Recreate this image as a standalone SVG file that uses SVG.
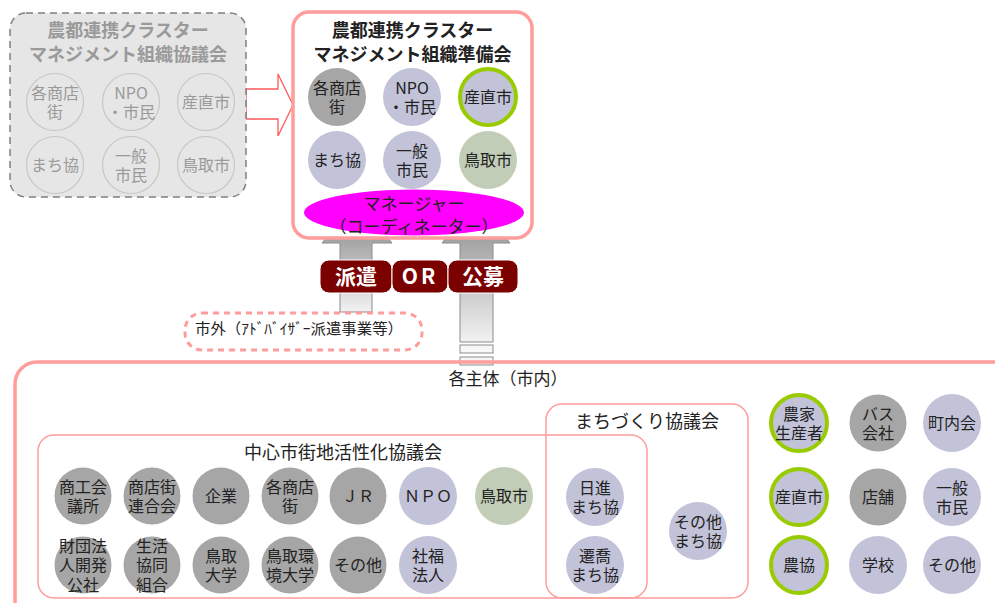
<svg xmlns="http://www.w3.org/2000/svg" width="995" height="603" viewBox="0 0 995 603">
<defs>
<linearGradient id="gL" gradientUnits="userSpaceOnUse" x1="0" y1="238" x2="0" y2="312">
<stop offset="0" stop-color="#a2a2a2"/><stop offset="1" stop-color="#f2f2f2"/>
</linearGradient>
<linearGradient id="gR" gradientUnits="userSpaceOnUse" x1="0" y1="238" x2="0" y2="342">
<stop offset="0" stop-color="#a2a2a2"/><stop offset="1" stop-color="#f2f2f2"/>
</linearGradient>
<style>
text{font-family:"Noto Sans CJK JP","Liberation Sans",sans-serif;text-anchor:middle;fill:#222}
.t16{font-size:16px}
.ttl{font-size:18px;font-weight:bold}
.gt{fill:#9a9a9a}
.ghost{fill:#e6e6e6;stroke:#c6c6c6;stroke-width:1.2}
.gray{fill:#a6a6a6}
.lav{fill:#c2c2d9}
.sage{fill:#c2cdb7}
.ring{fill:#c2c2d9;stroke:#99cc00;stroke-width:4}
.pinkbox{fill:none;stroke:#ff9c9c;stroke-width:1.5}
.lbl{fill:#7b0000;stroke:#fff;stroke-width:1}
.wt{fill:#fff;font-size:21px;font-weight:bold}
</style>
</defs>

<!-- connectors -->
<g id="connectors">
<polygon points="246,89 278,89 278,74 293,105 278,136 278,119 246,119" fill="#fff" stroke="#ff5a5a" stroke-width="1.3"/>
<polygon points="340,312 340,243 322,243 357,200 392,243 372,243 372,312" fill="url(#gL)" stroke="#8c8c8c" stroke-width="1"/>
<polygon points="460,342 460,243 442,243 476,200 510,243 493,243 493,342" fill="url(#gR)" stroke="#8c8c8c" stroke-width="1"/>
<rect x="460" y="345" width="33" height="8" fill="#f7f7f7" stroke="#8c8c8c" stroke-width="1"/>
<rect x="460" y="357" width="33" height="8" fill="#f7f7f7" stroke="#8c8c8c" stroke-width="1"/>
</g>

<!-- old council (ghost) -->
<g id="old-council">
<rect x="10" y="13" width="236" height="184" rx="16" fill="#e6e6e6" stroke="#7f7f7f" stroke-width="1.5" stroke-dasharray="7,5"/>
<text class="ttl gt" x="128" y="37">農都連携クラスター<tspan x="128" dy="24">マネジメント組織協議会</tspan></text>
<g id="old-shoutengai"><circle class="ghost" cx="55" cy="102" r="28.5"/><text class="t16 gt" x="55" y="98.5">各商店<tspan x="55" dy="19">街</tspan></text></g>
<g id="old-npo"><circle class="ghost" cx="131" cy="102" r="28.5"/><text class="t16 gt" x="131" y="98.5">NPO<tspan x="131" dy="19">・市民</tspan></text></g>
<g id="old-sanchoku"><circle class="ghost" cx="206" cy="102" r="28.5"/><text class="t16 gt" x="206" y="108">産直市</text></g>
<g id="old-machikyo"><circle class="ghost" cx="55" cy="165" r="28.5"/><text class="t16 gt" x="55" y="171">まち協</text></g>
<g id="old-shimin"><circle class="ghost" cx="131" cy="165" r="28.5"/><text class="t16 gt" x="131" y="161.5">一般<tspan x="131" dy="19">市民</tspan></text></g>
<g id="old-tottori"><circle class="ghost" cx="206" cy="165" r="28.5"/><text class="t16 gt" x="206" y="171">鳥取市</text></g>
</g>

<!-- preparatory council -->
<g id="prep-council">
<rect x="293" y="12" width="239" height="226" rx="16" fill="#fff" stroke="#ff9c9c" stroke-width="3.5"/>
<text class="ttl" x="412.5" y="37">農都連携クラスター<tspan x="412.5" dy="24">マネジメント組織準備会</tspan></text>
<g id="prep-shoutengai"><circle class="gray" cx="337" cy="97" r="29"/><text class="t16" x="337" y="93.5">各商店<tspan x="337" dy="19">街</tspan></text></g>
<g id="prep-npo"><circle class="lav" cx="412" cy="97" r="29"/><text class="t16" x="412" y="93.5">NPO<tspan x="412" dy="19">・市民</tspan></text></g>
<g id="prep-sanchoku"><circle class="ring" cx="488" cy="97" r="28"/><text class="t16" x="488" y="103">産直市</text></g>
<g id="prep-machikyo"><circle class="lav" cx="337" cy="160" r="29"/><text class="t16" x="337" y="166">まち協</text></g>
<g id="prep-shimin"><circle class="lav" cx="412" cy="160" r="29"/><text class="t16" x="412" y="156.5">一般<tspan x="412" dy="19">市民</tspan></text></g>
<g id="prep-tottori"><circle class="sage" cx="488" cy="160" r="29"/><text class="t16" x="488" y="166">鳥取市</text></g>
</g>

<g id="manager">
<ellipse cx="414" cy="212.5" rx="110" ry="23" fill="#ff00ff"/>
<text x="414" y="209.5" style="font-size:17px">マネージャー<tspan x="414" dy="23.5">（コーディネーター）</tspan></text>
</g>

<g id="labels">
<rect class="lbl" x="320" y="260" width="72" height="33" rx="9"/>
<rect class="lbl" x="392" y="260" width="56" height="33" rx="9"/>
<rect class="lbl" x="448" y="260" width="70" height="33" rx="9"/>
<text class="wt" x="356" y="284">派遣</text>
<text class="wt" x="420" y="284" style="letter-spacing:3px">OR</text>
<text class="wt" x="483" y="284">公募</text>
</g>

<g id="outside">
<rect x="185" y="313" width="237" height="37" rx="17" fill="#fff" stroke="#ff9c9c" stroke-width="3" stroke-dasharray="6,5"/>
<text x="299" y="334" style="font-size:15px" textLength="208" lengthAdjust="spacingAndGlyphs">市外（ｱﾄﾞﾊﾞｲｻﾞｰ派遣事業等）</text>
</g>

<!-- city actors -->
<g id="city">
<rect x="15" y="362" width="1010" height="270" rx="22" fill="none" stroke="#ff9c9c" stroke-width="3.5"/>
<text x="508" y="385" style="font-size:17px">各主体（市内）</text>
</g>

<g id="chushin">
<rect class="pinkbox" x="38" y="435" width="609" height="163" rx="16"/>
<text x="343" y="459" style="font-size:18px">中心市街地活性化協議会</text>
<g id="c1"><circle class="gray" cx="83" cy="496" r="28.5"/><text class="t16" x="83" y="492.5">商工会<tspan x="83" dy="19">議所</tspan></text></g>
<g id="c2"><circle class="gray" cx="152" cy="496" r="28.5"/><text class="t16" x="152" y="492.5">商店街<tspan x="152" dy="19">連合会</tspan></text></g>
<g id="c3"><circle class="gray" cx="221" cy="496" r="28.5"/><text class="t16" x="221" y="502">企業</text></g>
<g id="c4"><circle class="gray" cx="290" cy="496" r="28.5"/><text class="t16" x="290" y="492.5">各商店<tspan x="290" dy="19">街</tspan></text></g>
<g id="c5"><circle class="gray" cx="358" cy="496" r="28.5"/><text class="t16" x="358" y="502">ＪＲ</text></g>
<g id="c6"><circle class="lav" cx="428" cy="496" r="29"/><text class="t16" x="428" y="502">ＮＰＯ</text></g>
<g id="c7"><circle class="sage" cx="504" cy="496" r="29"/><text class="t16" x="504" y="502">鳥取市</text></g>
<g id="c8"><circle class="gray" cx="83" cy="565" r="28.5"/><text class="t16" x="83" y="551.5">財団法<tspan x="83" dy="19.5">人開発</tspan><tspan x="83" dy="19.5">公社</tspan></text></g>
<g id="c9"><circle class="gray" cx="152" cy="565" r="28.5"/><text class="t16" x="152" y="551.5">生活<tspan x="152" dy="19.5">協同</tspan><tspan x="152" dy="19.5">組合</tspan></text></g>
<g id="c10"><circle class="gray" cx="221" cy="565" r="28.5"/><text class="t16" x="221" y="561.5">鳥取<tspan x="221" dy="19">大学</tspan></text></g>
<g id="c11"><circle class="gray" cx="290" cy="565" r="28.5"/><text class="t16" x="290" y="561.5">鳥取環<tspan x="290" dy="19">境大学</tspan></text></g>
<g id="c12"><circle class="gray" cx="358" cy="565" r="28.5"/><text class="t16" x="358" y="571">その他</text></g>
<g id="c13"><circle class="lav" cx="428" cy="565" r="29"/><text class="t16" x="428" y="561.5">社福<tspan x="428" dy="19">法人</tspan></text></g>
</g>

<g id="machizukuri">
<rect class="pinkbox" x="546" y="404" width="202" height="194" rx="16"/>
<text x="647" y="428" style="font-size:18px">まちづくり協議会</text>
<g id="m1"><circle class="lav" cx="595" cy="497" r="29"/><text class="t16" x="595" y="493.5">日進<tspan x="595" dy="19">まち協</tspan></text></g>
<g id="m2"><circle class="lav" cx="595" cy="565" r="29"/><text class="t16" x="595" y="561.5">遷喬<tspan x="595" dy="19">まち協</tspan></text></g>
<g id="m3"><circle class="lav" cx="698" cy="531" r="29"/><text class="t16" x="698" y="527.5">その他<tspan x="698" dy="19">まち協</tspan></text></g>
</g>

<g id="others">
<g id="o1"><circle class="ring" cx="799" cy="423" r="28"/><text class="t16" x="799" y="419.5">農家<tspan x="799" dy="19">生産者</tspan></text></g>
<g id="o2"><circle class="gray" cx="878" cy="423" r="28.5"/><text class="t16" x="878" y="419.5">バス<tspan x="878" dy="19">会社</tspan></text></g>
<g id="o3"><circle class="lav" cx="952" cy="423" r="29"/><text class="t16" x="952" y="429">町内会</text></g>
<g id="o4"><circle class="ring" cx="799" cy="497" r="28"/><text class="t16" x="799" y="503">産直市</text></g>
<g id="o5"><circle class="gray" cx="878" cy="497" r="28.5"/><text class="t16" x="878" y="503">店舗</text></g>
<g id="o6"><circle class="lav" cx="952" cy="497" r="29"/><text class="t16" x="952" y="493.5">一般<tspan x="952" dy="19">市民</tspan></text></g>
<g id="o7"><circle class="ring" cx="799" cy="565" r="28"/><text class="t16" x="799" y="571">農協</text></g>
<g id="o8"><circle class="lav" cx="878" cy="565" r="29"/><text class="t16" x="878" y="571">学校</text></g>
<g id="o9"><circle class="lav" cx="952" cy="565" r="29"/><text class="t16" x="952" y="571">その他</text></g>
</g>
</svg>
